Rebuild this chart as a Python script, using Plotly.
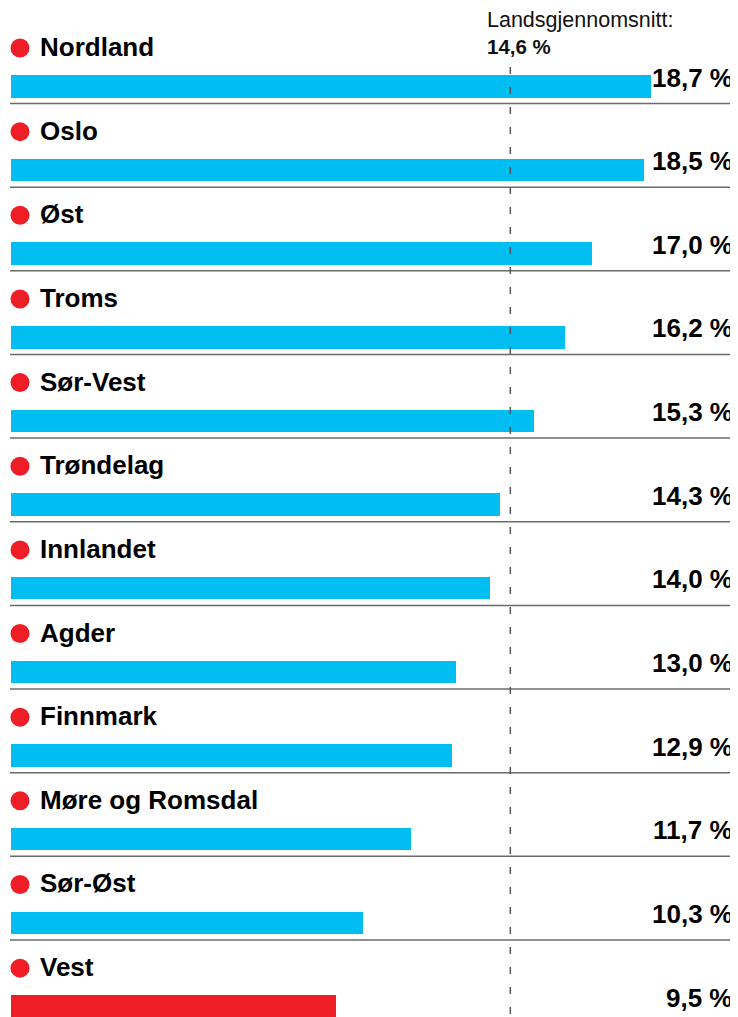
import plotly.graph_objects as go

regions = ["Nordland", "Oslo", "Øst", "Troms", "Sør-Vest", "Trøndelag",
           "Innlandet", "Agder", "Finnmark", "Møre og Romsdal", "Sør-Øst", "Vest"]
values = [18.7, 18.5, 17.0, 16.2, 15.3, 14.3, 14.0, 13.0, 12.9, 11.7, 10.3, 9.5]
highlight = ["Vest"]
national_avg = 14.6
avg_title = "Landsgjennomsnitt:"

BLUE = "#00BEF2"
RED = "#EE1D26"
PAGE_W, PAGE_H = 738, 1017
OFF = 8  # default page body margin
W, H = PAGE_W - OFF, PAGE_H - OFF

# pixel geometry (page pixels) -> axis units
x0_px, px_per_unit = 11 - OFF, 34.2
row_h, first_center = 83.65, 86.3 - OFF
x_range = [-x0_px / px_per_unit, (W - x0_px) / px_per_unit]
y_range = [(H - first_center) / row_h, -first_center / row_h]

def px_x(p):
    return (p - OFF - x0_px) / px_per_unit

def px_y(p):
    return (p - OFF - first_center) / row_h

def fmt(v):
    return f"{v:.1f}".replace(".", ",") + " %"

n = len(regions)
rows = list(range(n))
colors = [RED if r in highlight else BLUE for r in regions]

fig = go.Figure()
fig.add_trace(go.Bar(
    x=values, y=rows, orientation="h", width=22.5 / row_h,
    marker=dict(color=colors, line=dict(width=0)), hoverinfo="skip",
))
# red dots
fig.add_trace(go.Scatter(
    x=[px_x(20)] * n, y=[r - 0.458 for r in rows],
    mode="markers", marker=dict(color=RED, size=19, line=dict(width=0)),
    hoverinfo="skip",
))
# national average dashed line
fig.add_trace(go.Scatter(
    x=[national_avg, national_avg], y=[px_y(67), y_range[0]],
    mode="lines", line=dict(color="#555555", width=1.5, dash="7px,13px"),
    hoverinfo="skip",
))

# separators
sep_off = (103.5 - 86.3) / row_h
for k in range(n - 1):
    yy = k + sep_off
    fig.add_shape(type="line", xref="paper", x0=(10 - OFF) / W, x1=1, yref="y", y0=yy, y1=yy,
                  line=dict(color="#6b6b6b", width=1.5), layer="below")

for r, name, v in zip(rows, regions, values):
    fig.add_annotation(x=px_x(38), y=r - 0.47, text=f"<b>{name}</b>",
                       xanchor="left", yanchor="middle", showarrow=False,
                       font=dict(family="Liberation Sans, Arial", size=26, color="#000"))
    fig.add_annotation(xref="paper", x=(735 - OFF) / W, y=r - 0.105, text=f"<b>{fmt(v)}</b>",
                       xanchor="right", yanchor="middle", showarrow=False,
                       font=dict(family="Liberation Sans, Arial", size=26, color="#000"))

fig.add_annotation(x=px_x(485), y=px_y(20),
                   text=avg_title, xanchor="left", yanchor="middle", showarrow=False,
                   font=dict(family="Liberation Sans, Arial", size=21.5, color="#111"))
fig.add_annotation(x=px_x(485), y=px_y(46),
                   text=f"<b>{fmt(national_avg)}</b>", xanchor="left", yanchor="middle",
                   showarrow=False,
                   font=dict(family="Liberation Sans, Arial", size=20.5, color="#111"))

fig.update_layout(
    width=W, height=H, margin=dict(l=0, r=0, t=0, b=0),
    paper_bgcolor="white", plot_bgcolor="white", showlegend=False,
    xaxis=dict(range=x_range, visible=False, fixedrange=True),
    yaxis=dict(range=y_range, visible=False, fixedrange=True),
    bargap=0,
)
fig.write_html("out.html")
